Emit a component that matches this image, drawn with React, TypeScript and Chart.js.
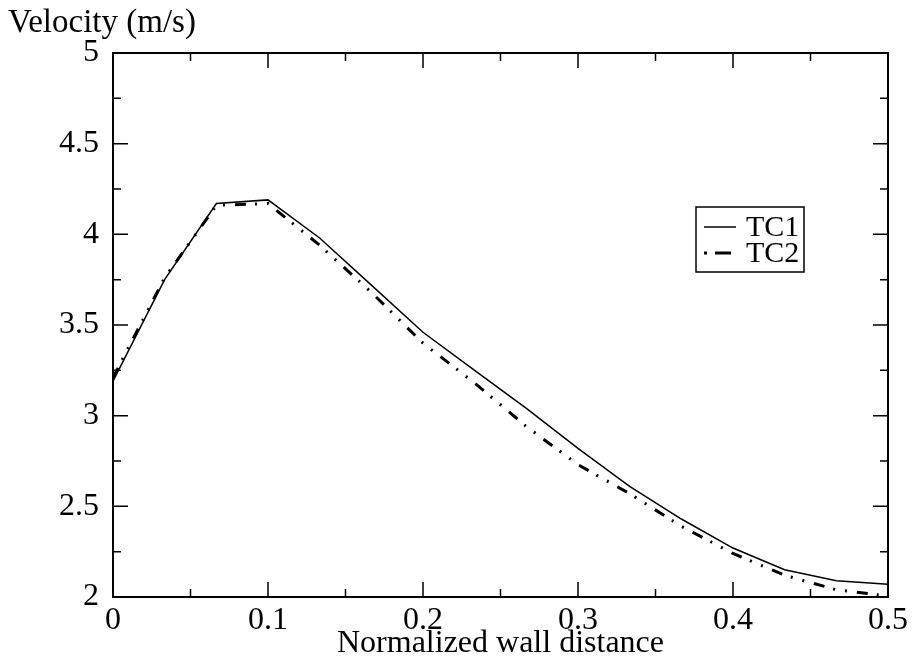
import React, { useEffect, useRef } from "react";
import { Chart, registerables } from "chart.js";

Chart.register(...registerables);

const xValues = [0, 0.0333, 0.0667, 0.1, 0.1333, 0.1667, 0.2, 0.2333, 0.2667, 0.3, 0.3333, 0.3667, 0.4, 0.4333, 0.4667, 0.5];
const tc1Values = [3.19, 3.75, 4.17, 4.19, 3.98, 3.72, 3.46, 3.25, 3.04, 2.82, 2.61, 2.43, 2.27, 2.15, 2.09, 2.07];
const tc2Values = [3.21, 3.76, 4.16, 4.17, 3.94, 3.68, 3.40, 3.18, 2.94, 2.73, 2.57, 2.39, 2.24, 2.12, 2.04, 2.005];
const seriesLabels = ["TC1", "TC2"];
const yAxisTitle = "Velocity (m/s)";
const xAxisTitle = "Normalized wall distance";
const xMajorTicks = [0, 0.1, 0.2, 0.3, 0.4, 0.5];
const xMinorTicks = [0.05, 0.15, 0.25, 0.35, 0.45];
const yMajorTicks = [2, 2.5, 3, 3.5, 4, 4.5, 5];
const yMinorTicks = [2.25, 2.75, 3.25, 3.75, 4.25, 4.75];

const FONT = "'Liberation Serif', 'Times New Roman', serif";
const TC2_DASH = [11, 9, 2, 10, 2, 10];

const framePlugin = {
  id: "frameTicks",
  afterDatasetsDraw(chart: any) {
    const { ctx, chartArea: a, scales } = chart;
    const xs = scales.x;
    const ys = scales.y;
    ctx.save();
    ctx.strokeStyle = "#000";
    ctx.lineWidth = 2;
    ctx.strokeRect(a.left, a.top, a.right - a.left, a.bottom - a.top);
    ctx.lineWidth = 1.5;
    const drawX = (vals: number[], len: number) => {
      vals.forEach((v) => {
        const px = xs.getPixelForValue(v);
        ctx.beginPath();
        ctx.moveTo(px, a.bottom);
        ctx.lineTo(px, a.bottom - len);
        ctx.moveTo(px, a.top);
        ctx.lineTo(px, a.top + len);
        ctx.stroke();
      });
    };
    const drawY = (vals: number[], len: number) => {
      vals.forEach((v) => {
        const py = ys.getPixelForValue(v);
        ctx.beginPath();
        ctx.moveTo(a.left, py);
        ctx.lineTo(a.left + len, py);
        ctx.moveTo(a.right, py);
        ctx.lineTo(a.right - len, py);
        ctx.stroke();
      });
    };
    drawX(xMajorTicks, 15);
    drawX(xMinorTicks, 8);
    drawY(yMajorTicks, 15);
    drawY(yMinorTicks, 8);

    // y axis title (horizontal, top-left)
    ctx.fillStyle = "#000";
    ctx.font = `33px ${FONT}`;
    ctx.textAlign = "left";
    ctx.textBaseline = "alphabetic";
    ctx.fillText(yAxisTitle, 8, 32);

    // legend box
    const bx = 696, by = 207, bw = 108, bh = 65;
    ctx.fillStyle = "#fff";
    ctx.fillRect(bx, by, bw, bh);
    ctx.lineWidth = 1.5;
    ctx.strokeRect(bx, by, bw, bh);
    const rows = [227, 253];
    chart.data.datasets.forEach((ds: any, i: number) => {
      const y = rows[i];
      ctx.beginPath();
      ctx.strokeStyle = ds.borderColor;
      ctx.lineWidth = ds.borderWidth;
      ctx.setLineDash(i === 1 ? [3, 8, 16, 10] : []);
      ctx.moveTo(704, y);
      ctx.lineTo(736, y);
      ctx.stroke();
      ctx.setLineDash([]);
      ctx.fillStyle = "#000";
      ctx.font = `30px ${FONT}`;
      ctx.textBaseline = "middle";
      ctx.fillText(ds.label, 746, y + 1);
    });
    ctx.restore();
  },
};

export default function App() {
  const ref = useRef<HTMLCanvasElement | null>(null);
  useEffect(() => {
    if (!ref.current) return;
    const chart = new Chart(ref.current, {
      type: "line",
      data: {
        datasets: [
          {
            label: seriesLabels[0],
            data: xValues.map((x, i) => ({ x, y: tc1Values[i] })),
            borderColor: "#000",
            borderWidth: 1.5,
            pointRadius: 0,
            fill: false,
            tension: 0,
          },
          {
            label: seriesLabels[1],
            data: xValues.map((x, i) => ({ x, y: tc2Values[i] })),
            borderColor: "#000",
            borderWidth: 3,
            borderDash: TC2_DASH,
            pointRadius: 0,
            fill: false,
            tension: 0,
          },
        ],
      },
      options: {
        animation: false,
        responsive: true,
        maintainAspectRatio: false,
        layout: { padding: { top: 53, right: 26, left: 0, bottom: 0 } },
        plugins: { legend: { display: false }, tooltip: { enabled: false }, title: { display: false } },
        scales: {
          x: {
            type: "linear",
            min: 0,
            max: 0.5,
            afterFit: (s: any) => { s.height = 68; },
            afterBuildTicks: (s: any) => { s.ticks = xMajorTicks.map((v) => ({ value: v })); },
            ticks: {
              color: "#000",
              font: { family: FONT, size: 32 },
              padding: 4,
              maxRotation: 0,
              callback: (v: any) => String(Number(v)),
            },
            grid: { display: false, drawTicks: false },
            border: { display: false },
            title: {
              display: true,
              text: xAxisTitle,
              color: "#000",
              font: { family: FONT, size: 32 },
              padding: { top: 0, bottom: 2 },
            },
          },
          y: {
            type: "linear",
            min: 2,
            max: 5,
            afterFit: (s: any) => { s.width = 113; },
            afterBuildTicks: (s: any) => { s.ticks = yMajorTicks.map((v) => ({ value: v })); },
            ticks: {
              color: "#000",
              font: { family: FONT, size: 32 },
              padding: 14,
              callback: (v: any) => String(Number(v)),
            },
            grid: { display: false, drawTicks: false },
            border: { display: false },
          },
        },
      },
      plugins: [framePlugin],
    });
    return () => chart.destroy();
  }, []);
  return (
    <div style={{ position: "absolute", left: 0, top: 0, width: 914, height: 665, background: "#fff" }}>
      <canvas ref={ref} />
    </div>
  );
}
